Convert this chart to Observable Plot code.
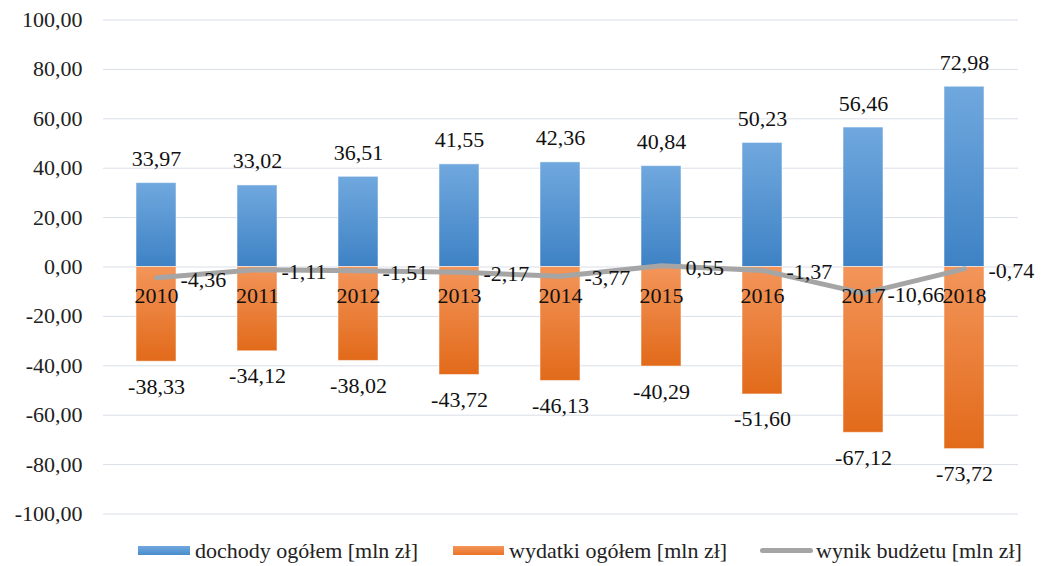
<!DOCTYPE html>
<html>
<head>
<meta charset="utf-8">
<script src="https://cdn.jsdelivr.net/npm/d3@7"></script>
<script src="https://cdn.jsdelivr.net/npm/@observablehq/plot@0.6"></script>
<style>
  body { margin: 0; background: #fff; font-family: "Liberation Serif", "Times New Roman", Times, "DejaVu Serif", serif; }
  #chart { width: 1044px; }
  #chart svg, #chart svg text { font-family: "Liberation Serif", "Times New Roman", Times, "DejaVu Serif", serif !important; }
  .legend { position: relative; height: 31px; width: 1044px; font-size: 22px; color: #222; white-space: nowrap; }
  .legend .item { position: absolute; top: 0; height: 31px; display: flex; align-items: center; }
  .legend .sw { display: inline-block; margin-right: 5px; }
</style>
</head>
<body>
<div id="chart"></div>
<script>
const years = ["2010","2011","2012","2013","2014","2015","2016","2017","2018"];
const dochody = [33.97, 33.02, 36.51, 41.55, 42.36, 40.84, 50.23, 56.46, 72.98];
const wydatki = [-38.33, -34.12, -38.02, -43.72, -46.13, -40.29, -51.60, -67.12, -73.72];
const wynik = [-4.36, -1.11, -1.51, -2.17, -3.77, 0.55, -1.37, -10.66, -0.74];
const yTicks = [-100, -80, -60, -40, -20, 0, 20, 40, 60, 80, 100];
const seriesNames = ["dochody ogółem [mln zł]", "wydatki ogółem [mln zł]", "wynik budżetu [mln zł]"];

const fmt = v => v.toFixed(2).replace(".", ",");
const dochData = years.map((y, i) => ({year: y, value: dochody[i]}));
const wydData = years.map((y, i) => ({year: y, value: wydatki[i]}));
const wynData = years.map((y, i) => ({year: y, value: wynik[i]}));
const zeroData = years.map(y => ({year: y, value: 0}));

const font = "'Liberation Serif', 'Times New Roman', Times, 'DejaVu Serif', serif";

const plot = Plot.plot({
  width: 1044,
  height: 535,
  marginTop: 19.5,
  marginBottom: 21.5,
  marginLeft: 103,
  marginRight: 26,
  style: {fontFamily: font, fontSize: "22px", color: "#222", background: "#fff"},
  x: {domain: years, paddingInner: 0.6, paddingOuter: 0.3, axis: null},
  y: {domain: [-100, 100], ticks: yTicks, tickFormat: fmt, tickSize: 0, tickPadding: 21, label: null},
  marks: [
    Plot.gridY(yTicks, {stroke: "#d9dee8", strokeOpacity: 1, strokeWidth: 1}),
    Plot.barY(dochData, {x: "year", y: "value", fill: "url(#gradBlue)", stroke: "#fff", strokeOpacity: 0.5, strokeWidth: 1}),
    Plot.barY(wydData, {x: "year", y: "value", fill: "url(#gradOrange)", stroke: "#fff", strokeOpacity: 0.5, strokeWidth: 1}),
    Plot.line(wynData, {x: "year", y: "value", stroke: "#a5a5a5", strokeWidth: 5, strokeLinecap: "round", strokeLinejoin: "round"}),
    Plot.text(zeroData, {x: "year", y: "value", text: "year", dy: 29, fontSize: 22, fill: "#111"}),
    Plot.text(dochData, {x: "year", y: "value", text: d => fmt(d.value), dy: -24, fontSize: 22, fill: "#111"}),
    Plot.text(wydData, {x: "year", y: "value", text: d => fmt(d.value), dy: 25, fontSize: 22, fill: "#111"}),
    Plot.text(wynData, {x: "year", y: "value", text: d => fmt(d.value), dx: 24, dy: 2, textAnchor: "start", fontSize: 22, fill: "#111"})
  ]
});

const ns = "http://www.w3.org/2000/svg";
const defs = document.createElementNS(ns, "defs");
function grad(id, top, bottom) {
  const g = document.createElementNS(ns, "linearGradient");
  g.setAttribute("id", id);
  g.setAttribute("x1", "0"); g.setAttribute("y1", "0");
  g.setAttribute("x2", "0"); g.setAttribute("y2", "1");
  [[0, top], [1, bottom]].forEach(([o, c]) => {
    const s = document.createElementNS(ns, "stop");
    s.setAttribute("offset", o);
    s.setAttribute("stop-color", c);
    g.appendChild(s);
  });
  defs.appendChild(g);
}
grad("gradBlue", "#70a8de", "#3e82c5");
grad("gradOrange", "#f3955a", "#e26a1a");
plot.insertBefore(defs, plot.firstChild);
document.getElementById("chart").appendChild(plot);

// legend
const legend = document.createElement("div");
legend.className = "legend";
const items = [
  {name: seriesNames[0], left: 138, sw: '<span class="sw" style="width:52px;height:9px;background:linear-gradient(#70a8de,#4a8ccc)"></span>'},
  {name: seriesNames[1], left: 453, sw: '<span class="sw" style="width:51px;height:9px;background:linear-gradient(#f3955a,#ea7428)"></span>'},
  {name: seriesNames[2], left: 760, sw: '<span class="sw" style="width:53px;height:5px;border-radius:3px;background:#a5a5a5;margin-right:3px"></span>'}
];
items.forEach(it => {
  const d = document.createElement("div");
  d.className = "item";
  d.style.left = it.left + "px";
  d.innerHTML = it.sw + "<span>" + it.name + "</span>";
  legend.appendChild(d);
});
document.body.appendChild(legend);
</script>
</body>
</html>
